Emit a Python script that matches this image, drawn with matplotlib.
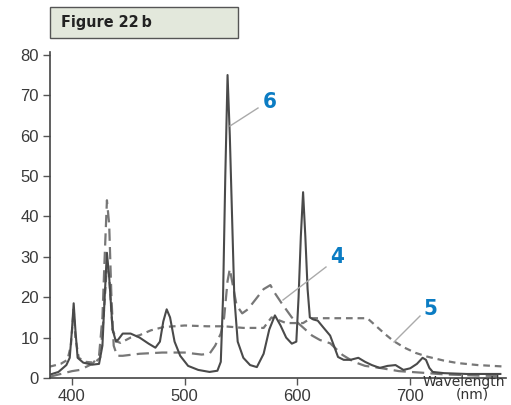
import matplotlib
matplotlib.use("Agg")
import matplotlib.pyplot as plt
from matplotlib.patches import Rectangle

# ---- data (wavelength nm, relative intensity) ----
wl_6 = [380, 388, 395, 398, 400, 401.5, 403, 405, 410, 418, 424, 427, 429, 431, 433, 436, 439,
        441, 445, 452, 460, 468, 474, 478, 481, 484, 487, 491, 496, 503, 512, 522, 529, 532,
        534, 536, 538, 540, 542, 544, 547, 552, 558, 564, 570, 575, 580, 585, 590, 595, 599,
        601, 603, 605, 607, 609, 611, 614, 618, 623, 629, 633, 636, 641, 647, 654, 660, 666,
        673, 680, 687, 694, 700, 706, 711, 714, 717, 720, 730, 750, 780]
val_6 = [0.8, 1.5, 3.2, 5, 12, 18.5, 12, 5, 3.8, 3.3, 3.5, 8, 20, 31, 25, 12, 9,
         9.5, 11, 11, 10, 8.5, 7.5, 9, 14, 17, 15, 9, 5.5, 3, 2, 1.5, 1.8, 4,
         20, 50, 75, 60, 40, 20, 9, 5, 3.2, 2.7, 6, 12, 15.5, 13, 10, 8.5, 9,
         20, 35, 46, 35, 22, 15, 14.5, 14.2, 12.5, 10.5, 7.5, 5.2, 4.5, 4.5, 5, 4, 3.2,
         2.5, 3, 3.2, 2, 2.4, 3.5, 5, 4.5, 2.5, 1.5, 1.2, 1, 1]

wl_4 = [380, 390, 400, 407, 418, 424, 427, 429, 431, 433, 435, 437, 440, 445, 460, 480, 500,
        515, 522, 527, 532, 535, 538, 540, 542, 546, 551, 556, 563, 570, 576, 580, 586, 595,
        605, 613, 620, 629, 640, 650, 660, 673, 690, 711, 730, 760, 780]
val_4 = [0.3, 1, 1.7, 2, 3.5, 5.5, 15, 30, 44, 38, 20, 8, 5.5, 5.5, 6, 6.3, 6.3,
         5.8, 6, 8, 11, 15, 24, 27, 24, 18, 16, 17, 19.5, 22, 23, 21, 18.5, 15,
         12.5, 10.5, 9.4, 8.6, 5.7, 4, 3, 2.5, 1.7, 1.3, 0.9, 0.6, 0.5]

wl_5 = [380, 390, 396, 399, 401.5, 403, 406, 412, 420, 425, 428, 431, 433, 436, 440, 443, 452,
        460, 470, 481, 500, 520, 535, 552, 570, 577, 590, 605, 612, 640, 662, 670, 678, 685,
        695, 705, 715, 730, 742, 760, 786]
val_5 = [2.8, 3.5, 4.5, 8, 17, 10, 5, 4, 3.8, 5, 15, 28, 25, 12, 9, 8.7, 10,
         10.6, 11.8, 12.6, 13, 12.8, 12.8, 12.4, 12.4, 15, 13.6, 13.6, 14.8, 14.8, 14.8, 12.8, 10.8, 9.2,
         7.5, 6.2, 5.3, 4.3, 3.7, 3.2, 2.8]

x_ticks = [400, 500, 600, 700]
y_ticks = [0, 10, 20, 30, 40, 50, 60, 70, 80]

W, H = 511, 405
fig = plt.figure(figsize=(W / 100, H / 100), dpi=100)
ax = fig.add_axes([50 / W, 1 - 378 / H, (506 - 50) / W, (378 - 52) / H])

ax.plot(wl_5, val_5, color="#777777", lw=1.6, dashes=(3.0, 2.2), zorder=2,
        solid_joinstyle="round")
ax.plot(wl_4, val_4, color="#777777", lw=1.6, dashes=(5.5, 2.8), zorder=2)
ax.plot(wl_6, val_6, color="#4a4a4a", lw=1.5, zorder=3, solid_joinstyle="round")

ax.set_xlim(380.5, 785)
ax.set_ylim(0, 80.7)
ax.set_xticks(x_ticks)
ax.set_yticks(y_ticks)
for s in ["top", "right"]:
    ax.spines[s].set_visible(False)
for s in ["left", "bottom"]:
    ax.spines[s].set_color("#444444")
    ax.spines[s].set_linewidth(1.2)
ax.tick_params(axis="both", colors="#555555", labelcolor="#3a3a3a", labelsize=11,
               length=5, width=1, direction="out", pad=3)
for lab in ax.get_xticklabels() + ax.get_yticklabels():
    lab.set_family(["Liberation Sans", "DejaVu Sans"])
    lab.set_fontsize(12)

def fx(px):
    return px / W
def fy(py):
    return 1 - py / H

for (x0, y0, x1, y1) in [(258, 108, 230, 126), (326, 267, 283, 300), (420, 316, 394, 342)]:
    fig.add_artist(plt.Line2D([fx(x0), fx(x1)], [fy(y0), fy(y1)], color="#aaaaaa", lw=1.0))

blue = "#0b7cc3"
for txt, px, py in [("6", 270, 102), ("4", 337, 257), ("5", 430, 309)]:
    fig.text(fx(px), fy(py), txt, color=blue, fontsize=16, fontweight="bold",
             fontstretch="condensed", ha="center", va="center",
             family=["DejaVu Sans"])

# title box
fig.add_artist(Rectangle((fx(50), fy(38)), (238 - 50) / W, (38 - 7) / H,
                         facecolor="#e3e8dc", edgecolor="#555555", lw=1.0,
                         transform=fig.transFigure))
fig.text(fx(61), fy(22.5), "Figure 22\u2009b", fontsize=11.5, fontweight="bold",
         fontstretch="condensed", color="#222222", ha="left", va="center",
         family=["DejaVu Sans"])

fig.text(fx(464), fy(382), "Wavelength", fontsize=10, color="#333333",
         ha="center", va="center")
fig.text(fx(472), fy(395), "(nm)", fontsize=10, color="#333333",
         ha="center", va="center")

fig.savefig("out.png", dpi=100)
